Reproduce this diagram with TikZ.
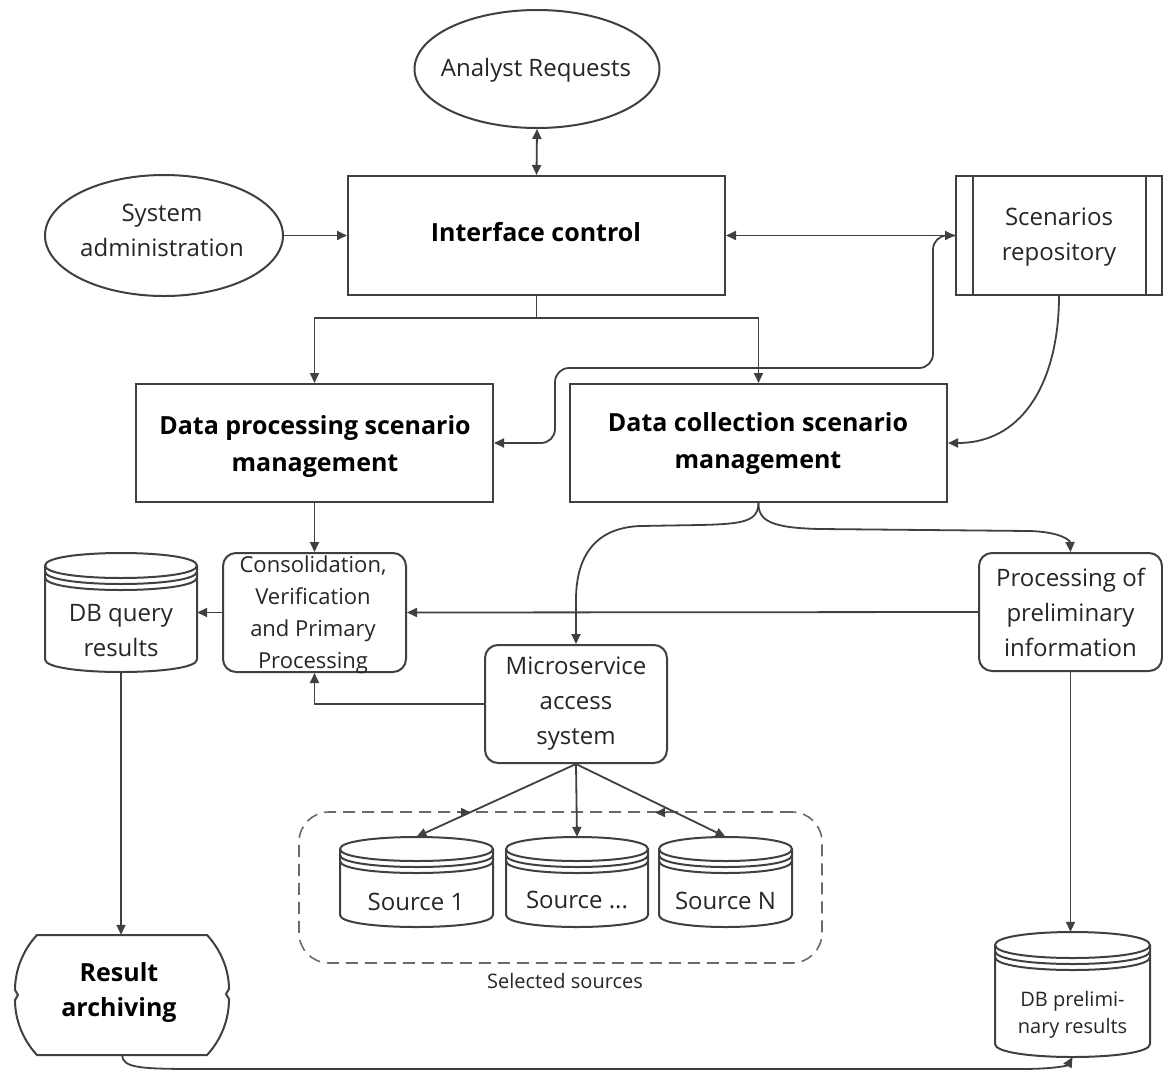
\documentclass[tikz,border=0pt]{standalone}
\usepackage{fontspec}
\setmainfont{Open Sans}
\usetikzlibrary{shapes.geometric,arrows.meta,calc}
\definecolor{ln}{HTML}{404040}
\definecolor{tx}{HTML}{262626}
\definecolor{dsh}{HTML}{6A6A6A}
\tikzset{
  lbl/.style={text=tx, align=center, inner sep=0pt, font=\fontsize{24}{35}\selectfont},
  bx/.style={draw=ln, line width=2pt, rectangle, inner sep=0pt, align=center, text=black,
     font=\bfseries\fontsize{25}{37}\selectfont},
  rbx/.style={draw=ln, line width=2pt, rectangle, rounded corners=13pt, inner sep=0pt, align=center, text=tx,
     font=\fontsize{24}{35}\selectfont},
  ell/.style={draw=ln, line width=2pt, ellipse, inner sep=0pt, align=center, text=tx,
     font=\fontsize{24}{35}\selectfont},
  cyl/.style={draw=ln, line width=2pt},
  tipa/.tip={Triangle[length=10pt,width=9pt]},
  conn/.style={draw=ln, line width=1.8pt, -tipa},
  dconn/.style={draw=ln, line width=1.8pt, tipa-tipa},
}
\newcommand{\dbcyl}[6]{%
  \pgfmathsetmacro\cxm{(#2+#3)/2}%
  \pgfmathsetmacro\cym{(#4+#5)/2}%
  \pgfmathsetmacro\cwm{#3-#2}%
  \pgfmathsetmacro\chm{#5-#4}%
  \pgfmathsetmacro\ka{#4+#6}%
  \pgfmathsetmacro\kb{#4+#6-1.333*#6}%
  \pgfmathsetmacro\kc{#4+#6+1.333*#6}%
  \pgfmathsetmacro\kd{#5-#6}%
  \pgfmathsetmacro\ke{#5-#6+1.333*#6}%
  \draw[cyl] (#2,\ka) .. controls (#2,\kb) and (#3,\kb) .. (#3,\ka)
     .. controls (#3,\kc) and (#2,\kc) .. (#2,\ka) -- cycle;
  \draw[cyl] (#2,{\ka+6}) .. controls (#2,{\kc+6}) and (#3,{\kc+6}) .. (#3,{\ka+6});
  \draw[cyl] (#2,{\ka+12}) .. controls (#2,{\kc+12}) and (#3,{\kc+12}) .. (#3,{\ka+12});
  \draw[cyl] (#2,\ka) -- (#2,\kd) .. controls (#2,\ke) and (#3,\ke) .. (#3,\kd) -- (#3,\ka);
  \node[inner sep=0pt, minimum width=\cwm pt, minimum height=\chm pt] (#1) at (\cxm,\cym) {};
}
\begin{document}
\begin{tikzpicture}[x=1pt,y=-1pt]
\fill[white] (0,0) rectangle (1163,1072);
\useasboundingbox (0,0) rectangle (1163,1072);

% top row
\node[ell, minimum width=245pt, minimum height=118pt] (ar) at (537,69) {};
\node[lbl] (art) at (536,70) {Analyst Requests};
\node[ell, minimum width=238pt, minimum height=121pt] (sa) at (164,235.5) {};
\node[lbl] (sat) at (162,230) {System\\administration};
\node[bx, minimum width=377pt, minimum height=119pt] (ic) at (536.5,235.5) {};
\node[lbl, text=black, font=\bfseries\fontsize{25}{37}\selectfont] (ict) at (536,232) {Interface control};
\node[draw=ln, line width=2pt, rectangle, inner sep=0pt, minimum width=206pt, minimum height=119pt] (repo) at (1059,235.5) {};
\draw[ln, line width=2pt] ($(repo.north west)+(18,0)$) -- ($(repo.south west)+(18,0)$);
\draw[ln, line width=2pt] ($(repo.north east)+(-17,0)$) -- ($(repo.south east)+(-17,0)$);
\node[lbl] (repot) at (1059,237) {Scenarios\\repository};

% second row
\node[bx, minimum width=357pt, minimum height=118pt] (dp) at (314.5,443) {};
\node[lbl, text=black, font=\bfseries\fontsize{25}{37}\selectfont] (dpt) at (315,446) {Data processing scenario\\management};
\node[bx, minimum width=377pt, minimum height=118pt] (dc) at (758.5,443) {};
\node[lbl, text=black, font=\bfseries\fontsize{25}{37}\selectfont] (dct) at (758,443) {Data collection scenario\\management};

% third row
\node[rbx, minimum width=183pt, minimum height=119pt] (cons) at (314.5,612.5) {};
\node[lbl, font=\fontsize{22}{32}\selectfont] (const) at (313,615) {Consolidation,\\Verification\\and Primary\\Processing};
\node[rbx, minimum width=183pt, minimum height=118pt] (ppi) at (1070.5,612) {Processing of\\preliminary\\information};
\node[rbx, minimum width=182pt, minimum height=118pt] (ms) at (576,704) {Microservice\\access\\system};

% databases
\dbcyl{dbq}{45}{197}{553}{672}{12.5}
\node[lbl] (dbqt) at (121,631) {DB query\\results};
\dbcyl{s1}{340}{493}{837}{927}{12}
\node[lbl] (s1t) at (416,902) {Source 1};
\dbcyl{s2}{506}{648}{837}{927}{12}
\node[lbl] (s2t) at (577,900) {Source ...};
\dbcyl{sN}{659}{792}{837}{927}{12}
\node[lbl] (sNt) at (725.5,901) {Source N};
\dbcyl{dbp}{995}{1150}{932}{1057}{13}
\node[lbl, font=\fontsize{20}{27}\selectfont] (dbpt) at (1072.5,1015) {DB prelimi-\\nary results};

% result archiving
\draw[cyl] (37,935) -- (207,935) .. controls (221,950) and (229,970) .. (229,989) -- (226,994) -- (229,999)
  .. controls (229,1020) and (221,1040) .. (207,1055) -- (37,1055)
  .. controls (23,1040) and (15,1020) .. (15,1000) -- (18,995) -- (15,990)
  .. controls (15,970) and (23,950) .. (37,935) -- cycle;
\node[inner sep=0pt, minimum width=214pt, minimum height=120pt] (ra) at (122,995) {};
\node[lbl, text=black, font=\bfseries\fontsize{25}{35}\selectfont] (rat) at (119,992) {Result\\archiving};

% selected sources
\node[draw=dsh, line width=1.6pt, dash pattern=on 12pt off 7pt, rounded corners=30pt,
  minimum width=523pt, minimum height=151pt, inner sep=0pt] (sel) at (560.5,887.5) {};
\node[text=tx, inner sep=0pt, font=\fontsize{20}{24}\selectfont] (sellbl) at (565,981) {Selected sources};
\coordinate (t1) at (471,812.5);
\coordinate (t2) at (655,812.5);

% connectors
\draw[dconn] (ar.south) -- (ic.north);
\draw[conn] (sa.east) -- (ic.west);
\draw[dconn] (ic.east) -- (repo.west);
\draw[conn, rounded corners=14pt] (repo.west) -- (933,235.5) -- (933,368) -- (555,368) -- (555,443) -- (dp.east);
\draw[conn] (repo.south) to[out=-90,in=0, looseness=1.1] (dc.east);
\draw[conn] (ic.south) -- ++(0,22) -| (dp.north);
\draw[conn] (ic.south) -- ++(0,22) -| (dc.north);
\draw[conn] (dp.south) -- (cons.north);
\draw[conn] (cons.west) -- (dbq.east |- cons.west);
\draw[conn] (ppi.west) -- (cons.east);
\draw[conn] (ms.west) -| (cons.south);
\draw[conn] (dc.south) .. controls (758,521) and (745,524) .. (700,525) -- (640,526)
   .. controls (592,528) and (576,560) .. (576,600) -- (ms.north);
\draw[conn] (dc.south) .. controls (758,521) and (772,528) .. (820,529) -- (1030,531)
   .. controls (1060,532) and (1070,540) .. (ppi.north);
\draw[conn] (ms.south) -- (s1.north);
\draw[conn] (ms.south) -- (s2.north);
\draw[conn] (ms.south) -- (sN.north);
\draw[conn] ($(t1)+(-12,0)$) -- (t1);
\draw[conn] ($(t2)+(12,0)$) -- (t2);
\draw[conn] (dbq.south) -- (dbq.south |- ra.north);
\draw[conn] (ppi.south) -- (ppi.south |- dbp.north);
\draw[conn] (ra.south) .. controls (123,1068) and (140,1069) .. (200,1069) -- (1020,1069)
   .. controls (1058,1069) and (1068,1065) .. (dbp.south);
\end{tikzpicture}
\end{document}
